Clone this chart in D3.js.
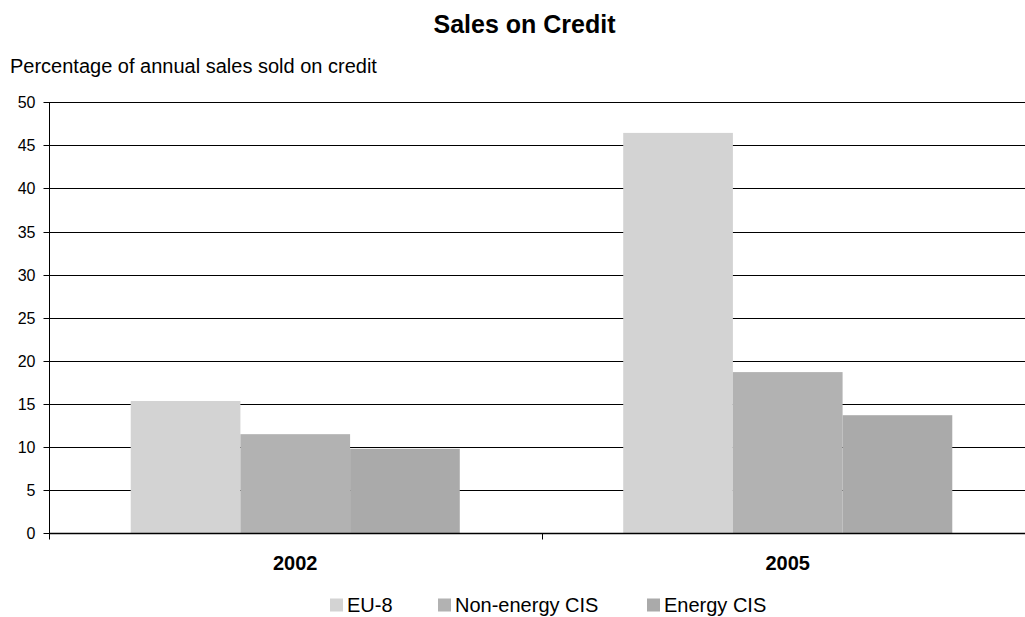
<!DOCTYPE html>
<html>
<head>
<meta charset="utf-8">
<script src="https://cdn.jsdelivr.net/npm/d3@7"></script>
<style>
  html, body { margin: 0; padding: 0; background: #fff; overflow: hidden; }
  svg { display: block; }
  text { font-family: "Liberation Sans", Arial, sans-serif; fill: #000; }
</style>
</head>
<body>
<div id="chart"></div>
<script>
// chart data
const years = ['2002', '2005'];
const seriesNames = ['EU-8', 'Non-energy CIS', 'Energy CIS'];
const seriesColors = ['#d3d3d3', '#b2b2b2', '#aaaaaa'];
const eu8 = [15.35, 46.45];
const nonEnergyCIS = [11.5, 18.7];
const energyCIS = [9.8, 13.7];
const yTicks = [0, 5, 10, 15, 20, 25, 30, 35, 40, 45, 50];

const seriesValues = [eu8, nonEnergyCIS, energyCIS];
const data = years.map((yr, i) => ({
  year: yr,
  values: seriesNames.map((s, j) => ({ key: s, value: seriesValues[j][i], color: seriesColors[j] }))
}));

const config = {
  width: 1025, height: 617,
  margin: { top: 102.3, left: 49 },
  yBottom: 533.3,
  // the plot runs a little past the right edge of the window, as in the original
  plotWidth: 985
};

const svg = d3.select('#chart').append('svg')
  .attr('width', config.width)
  .attr('height', config.height);

// Scales
const x0 = d3.scaleBand().domain(years)
  .range([config.margin.left, config.margin.left + config.plotWidth])
  .padding(0);
const x1 = d3.scaleBand().domain(seriesNames)
  .range([0, x0.bandwidth()])
  .paddingInner(0).paddingOuter(0.745);
const y = d3.scaleLinear().domain([0, 50]).range([config.yBottom, config.margin.top]);

const crisp = v => Math.round(v) + 0.5;

// Titles
svg.append('text')
  .attr('x', 524.5).attr('y', 33)
  .attr('text-anchor', 'middle')
  .style('font-size', '25px').style('font-weight', 'bold')
  .text('Sales on Credit');

svg.append('text')
  .attr('x', 10).attr('y', 73)
  .style('font-size', '20px')
  .text('Percentage of annual sales sold on credit');

// Gridlines
svg.append('g').selectAll('line.grid')
  .data(yTicks.filter(d => d > 0))
  .join('line')
  .attr('class', 'grid')
  .attr('x1', config.margin.left).attr('x2', config.width)
  .attr('y1', d => crisp(y(d))).attr('y2', d => crisp(y(d)))
  .attr('stroke', '#000').attr('stroke-width', 1);

// Bars
const groups = svg.append('g').selectAll('g.year')
  .data(data)
  .join('g')
  .attr('class', 'year')
  .attr('transform', d => `translate(${x0(d.year)},0)`);

groups.selectAll('rect')
  .data(d => d.values)
  .join('rect')
  .attr('x', d => x1(d.key))
  .attr('width', x1.bandwidth())
  .attr('y', d => y(d.value))
  .attr('height', d => y(0) - y(d.value))
  .attr('fill', d => d.color);

// Y axis
const yAxis = d3.axisLeft(y).tickValues(yTicks).tickSize(6).tickPadding(8);
const yAxisG = svg.append('g')
  .attr('transform', `translate(${config.margin.left + 0.5},0)`)
  .call(yAxis);
yAxisG.select('.domain').remove();
yAxisG.selectAll('.tick').attr('transform', d => `translate(0,${crisp(y(d))})`);
yAxisG.selectAll('.tick line').attr('stroke', '#000');
yAxisG.selectAll('.tick text')
  .style('font-size', '16px').style('font-family', '"Liberation Sans", Arial, sans-serif')
  .attr('fill', '#000');
yAxisG.append('line')
  .attr('x1', 0).attr('x2', 0)
  .attr('y1', config.margin.top).attr('y2', crisp(y(0)) + 6)
  .attr('stroke', '#000');

// X axis
const xAxisG = svg.append('g');
xAxisG.append('line')
  .attr('x1', config.margin.left).attr('x2', config.width)
  .attr('y1', crisp(y(0))).attr('y2', crisp(y(0)))
  .attr('stroke', '#000').attr('stroke-width', 1.5);
// category boundary ticks between bands
xAxisG.selectAll('line.xtick')
  .data(years.slice(1))
  .join('line')
  .attr('class', 'xtick')
  .attr('x1', d => crisp(x0(d))).attr('x2', d => crisp(x0(d)))
  .attr('y1', crisp(y(0))).attr('y2', crisp(y(0)) + 6)
  .attr('stroke', '#000');
xAxisG.selectAll('text')
  .data(years)
  .join('text')
  .attr('x', d => x0(d) + x0.bandwidth() / 2)
  .attr('y', 570)
  .attr('text-anchor', 'middle')
  .style('font-size', '20px').style('font-weight', 'bold')
  .text(d => d);

// Legend
const legendX = [330, 438, 647];
const legend = svg.append('g').selectAll('g.legend')
  .data(seriesNames)
  .join('g')
  .attr('class', 'legend')
  .attr('transform', (d, i) => `translate(${legendX[i]},0)`);
legend.append('rect')
  .attr('x', 0).attr('y', 598.5)
  .attr('width', 13).attr('height', 13)
  .attr('fill', (d, i) => seriesColors[i]);
legend.append('text')
  .attr('x', 17).attr('y', 612)
  .style('font-size', '20px')
  .text(d => d);
</script>
</body>
</html>
